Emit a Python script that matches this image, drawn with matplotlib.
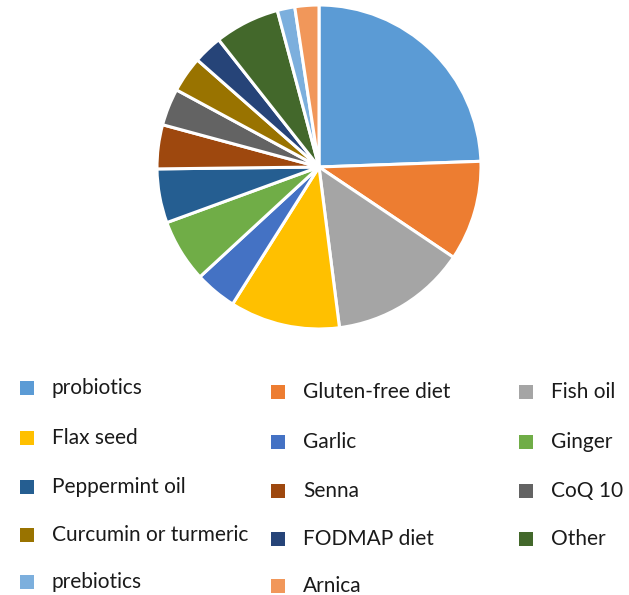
import matplotlib.pyplot as plt
from matplotlib.patches import Rectangle

# share of respondents using each supplement / diet (%)
labels = ['probiotics', 'Gluten-free diet', 'Fish oil', 'Flax seed', 'Garlic',
          'Ginger', 'Peppermint oil', 'Senna', 'CoQ 10', 'Curcumin or turmeric',
          'FODMAP diet', 'Other', 'prebiotics', 'Arnica']
shares = [24.5, 10.0, 13.6, 11.0, 4.2, 6.3, 5.4, 4.4, 3.7, 3.6, 2.9, 6.5, 1.75, 2.4]
colors = ['#5B9BD5', '#ED7D31', '#A5A5A5', '#FFC000', '#4472C4', '#70AD47',
          '#255E91', '#9E480E', '#636363', '#997300', '#264478', '#43682B',
          '#7CAFDD', '#F1975A']

plt.rcParams['font.family'] = ['Lato', 'DejaVu Sans']

W, H = 629, 595
fig = plt.figure(figsize=(W / 100, H / 100), dpi=100)

# pie centred at (319, 167) px, radius ~162 px
cx, cy, r = 319, 167, 162
ax = fig.add_axes([(cx - r) / W, 1 - (cy + r) / H, 2 * r / W, 2 * r / H])
ax.pie(shares, colors=colors, startangle=90, counterclock=False,
       wedgeprops=dict(edgecolor='white', linewidth=2.2))
ax.set_xlim(-1.0, 1.0)
ax.set_ylim(-1.0, 1.0)
ax.set_aspect('equal')
ax.axis('off')

# legend laid out row by row in three columns
col_x = [20, 271, 519]
col_dy = [0, 4, 4]
row_y = [388, 438, 487, 535, 582]
for i, (lab, col) in enumerate(zip(labels, colors)):
    row, c = divmod(i, 3)
    x, y = col_x[c], row_y[row] + col_dy[c]
    fig.patches.append(Rectangle((x / W, 1 - (y + 7) / H), 14 / W, 14 / H,
                                 transform=fig.transFigure, facecolor=col,
                                 edgecolor='none'))
    fig.text((x + 32) / W, 1 - y / H, lab, fontsize=15, va='center',
             ha='left', color='#1a1a1a')

fig.savefig('out.png', dpi=100)
